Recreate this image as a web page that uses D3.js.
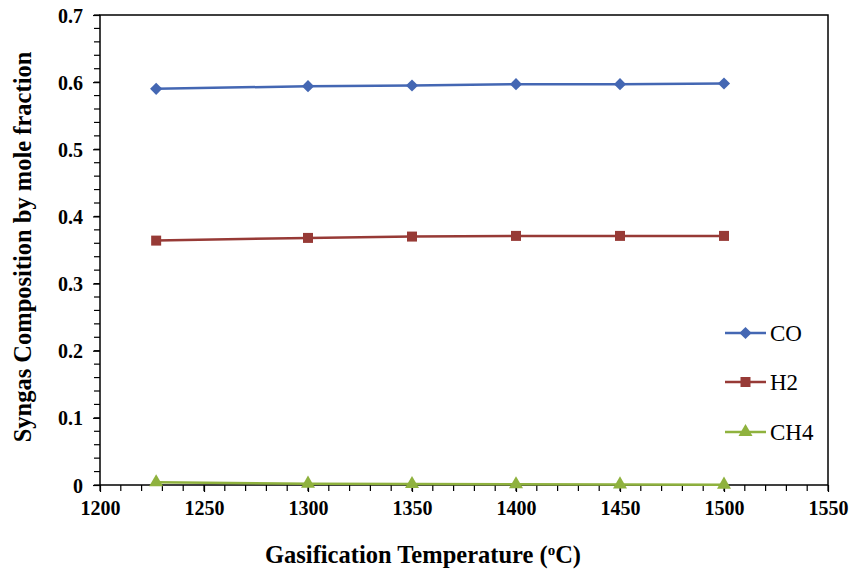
<!DOCTYPE html>
<html>
<head>
<meta charset="utf-8">
<script src="https://cdn.jsdelivr.net/npm/d3@7"></script>
<style>
  body { margin: 0; background: #fff; }
  svg { display: block; font-family: "Liberation Serif", "Times New Roman", serif; }
</style>
</head>
<body>
<svg id="chart" width="852" height="572"></svg>
<script>
// Data
const temps = [1227, 1300, 1350, 1400, 1450, 1500];
const coVals  = [0.590, 0.594, 0.595, 0.597, 0.597, 0.598];
const h2Vals  = [0.364, 0.368, 0.370, 0.371, 0.371, 0.371];
const ch4Vals = [0.004, 0.002, 0.0015, 0.001, 0.0008, 0.0005];
const seriesNames = ['CO', 'H2', 'CH4'];
const xTicks = [1200, 1250, 1300, 1350, 1400, 1450, 1500, 1550];
const yTicks = [0, 0.1, 0.2, 0.3, 0.4, 0.5, 0.6, 0.7];

const svg = d3.select('#chart');
const plotL = 100, plotR = 828, plotT = 15, plotB = 485;

const x = d3.scaleLinear().domain([1200, 1550]).range([plotL, plotR]);
const y = d3.scaleLinear().domain([0, 0.7]).range([plotB, plotT]);

const series = [
  { name: seriesNames[0], vals: coVals,  color: '#4467B3', shape: d3.symbolDiamond2, size: 95 },
  { name: seriesNames[1], vals: h2Vals,  color: '#973A36', shape: d3.symbolSquare,   size: 100 },
  { name: seriesNames[2], vals: ch4Vals, color: '#8FB23E', shape: d3.symbolTriangle, size: 85 }
];

// Frame
svg.append('rect')
  .attr('x', plotL).attr('y', plotT)
  .attr('width', plotR - plotL).attr('height', plotB - plotT)
  .attr('fill', 'none').attr('stroke', '#000').attr('stroke-width', 1.5);

// Minor ticks
const xMinor = d3.range(1200, 1551, 10);
svg.append('g').selectAll('line').data(xMinor).join('line')
  .attr('x1', d => x(d)).attr('x2', d => x(d))
  .attr('y1', plotB).attr('y2', plotB + 6)
  .attr('stroke', '#000').attr('stroke-width', 1.2);
const yMinor = d3.range(0, 0.7001, 0.02);
svg.append('g').selectAll('line').data(yMinor).join('line')
  .attr('x1', plotL - 6).attr('x2', plotL)
  .attr('y1', d => y(d)).attr('y2', d => y(d))
  .attr('stroke', '#000').attr('stroke-width', 1.2);

// Axes
const xAxis = svg.append('g')
  .attr('transform', `translate(0,${plotB})`)
  .call(d3.axisBottom(x).tickValues(xTicks).tickSize(7).tickFormat(d3.format('d')));
const yAxis = svg.append('g')
  .attr('transform', `translate(${plotL},0)`)
  .call(d3.axisLeft(y).tickValues(yTicks).tickSize(7).tickFormat(d => d === 0 ? '0' : d3.format('.1f')(d)));
[xAxis, yAxis].forEach(a => {
  a.select('.domain').remove();
  a.selectAll('.tick line').attr('stroke', '#000').attr('stroke-width', 1.2);
  a.selectAll('.tick text')
    .attr('font-family', '"Liberation Serif", serif')
    .attr('font-size', 20).attr('font-weight', 700).attr('fill', '#000');
});
xAxis.selectAll('.tick text').attr('y', 0).attr('dy', 30);
yAxis.selectAll('.tick text').attr('x', -17).attr('dy', '0.35em');

// Lines and markers
const line = d3.line().x((d, i) => x(temps[i])).y(d => y(d));
series.forEach(s => {
  svg.append('path')
    .attr('d', line(s.vals))
    .attr('fill', 'none').attr('stroke', s.color).attr('stroke-width', 2.5);
  svg.append('g').selectAll('path').data(s.vals).join('path')
    .attr('transform', (d, i) => `translate(${x(temps[i])},${y(d)})`)
    .attr('d', d3.symbol(s.shape, s.size))
    .attr('fill', s.color);
});

// Legend
const legY = [333, 382, 432];
series.forEach((s, i) => {
  const g = svg.append('g').attr('transform', `translate(725,${legY[i]})`);
  g.append('line').attr('x1', 0).attr('x2', 41).attr('y1', 0).attr('y2', 0)
    .attr('stroke', s.color).attr('stroke-width', 2.5);
  g.append('path').attr('transform', 'translate(20.5,0)')
    .attr('d', d3.symbol(s.shape, s.size)).attr('fill', s.color);
  g.append('text').attr('x', 45).attr('y', 0).attr('dy', '0.35em')
    .attr('font-size', 23).attr('fill', '#000').text(s.name);
});

// Axis titles
const xt = svg.append('text')
  .attr('x', 423).attr('y', 563)
  .attr('text-anchor', 'middle')
  .attr('font-size', 24.5).attr('font-weight', 700).attr('fill', '#000');
xt.append('tspan').text('Gasification Temperature (');
xt.append('tspan').attr('baseline-shift', 'super').attr('font-size', 15).text('o');
xt.append('tspan').text('C)');

svg.append('text')
  .attr('transform', `translate(31,247) rotate(-90)`)
  .attr('text-anchor', 'middle')
  .attr('font-size', 24.5).attr('font-weight', 700).attr('fill', '#000')
  .text('Syngas Composition by mole fraction');
</script>
</body>
</html>
